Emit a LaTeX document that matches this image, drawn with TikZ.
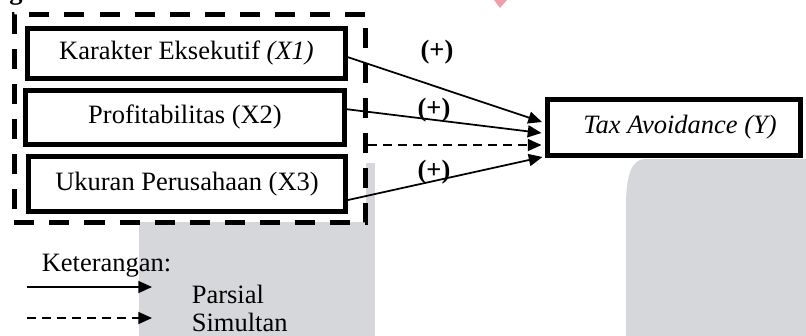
\documentclass[tikz,border=0pt]{standalone}
\usepackage{fontspec}
\setmainfont{Liberation Serif}
\usetikzlibrary{arrows.meta}
\definecolor{wmgray}{RGB}{214,215,219}
\definecolor{wmpink}{RGB}{238,160,168}

\begin{document}
\begin{tikzpicture}[x=0.4pt, y=-0.4pt,
		font=\fontsize{10.6}{12.7}\selectfont,
		var/.style={draw, line width=2pt, fill=white, minimum width=126.8pt, inner sep=0pt},
		pfeil/.style={-{Triangle[length=5.5pt, width=4.8pt]}, line width=0.7pt},
		strich/.style={dash pattern=on 3.5pt off 2.5pt}]
			\useasboundingbox (0,0) rectangle (806,335);
			
			% watermark
			\fill[wmgray] (139,163) rectangle (375,340);
			\fill[wmgray] (626,340) -- (626,205) .. controls (626,175) and (632,159) .. (645,159) -- (810,159) -- (810,340) -- cycle;
			\fill[wmpink] (494,0) -- (507,0) -- (500,8) -- cycle;
			\node[anchor=base, font=\fontsize{10.6}{12.7}\selectfont\bfseries] (g) at (16,-1) {g};
			
			% X1, X2, X3 e gruppo
			\node[draw, line width=2pt, fill=white, dash pattern=on 8pt off 6pt, minimum width=140.4pt, minimum height=83.2pt] (G) at (190,118) {};
			\node[var, minimum height=20pt] (X1) at (186.5,53) {Karakter Eksekutif \textit{(X1)}};
			\node[var, minimum width=127.6pt, minimum height=21.8pt] (X2) at (185,117.25) {Profitabilitas (X2)};
			\node[var, minimum height=22pt] (X3) at (187,184) {Ukuran Perusahaan (X3)};
			
			% Y
			\node[var, minimum width=101pt, minimum height=22.4pt] (Y) at (673.75,127.5) {\hspace*{5pt}\textit{Tax Avoidance (Y)}};
			
			% frecce
			\draw[pfeil] ([shift={(0,4)}]X1.east) -- ([shift={(-3,-5.5)}]Y.west);
			\draw[pfeil] ([shift={(0,-8)}]X2.east) -- ([shift={(-3.5,5.5)}]Y.west);
			\draw[pfeil, strich] ([shift={(0,27)}]G.east) -- ([shift={(-3.5,17.5)}]Y.west);
			\draw[pfeil] ([shift={(0,16)}]X3.east) -- ([shift={(-2.5,29.5)}]Y.west);
			
			\node[font=\fontsize{10.6}{12.7}\selectfont\bfseries] (P1) at (437,52) {(+)};
			\node[font=\fontsize{10.6}{12.7}\selectfont\bfseries] (P2) at (434,110) {(+)};
			\node[font=\fontsize{10.6}{12.7}\selectfont\bfseries] (P3) at (434,172) {(+)};
			
			% legenda
			\node[anchor=base west] (K) at (33,271) {Keterangan:};
			\coordinate (La) at (27,287);
			\coordinate (Lb) at (152,287);
			\coordinate (Ma) at (27,318);
			\coordinate (Mb) at (152,318);
			\draw[pfeil] (La) -- (Lb);
			\draw[pfeil, strich] (Ma) -- (Mb);
			\node[anchor=base west] (Pa) at (183,303) {Parsial};
			\node[anchor=base west, inner ysep=1pt] (Si) at (183,331) {Simultan};
		\end{tikzpicture}
\end{document}
